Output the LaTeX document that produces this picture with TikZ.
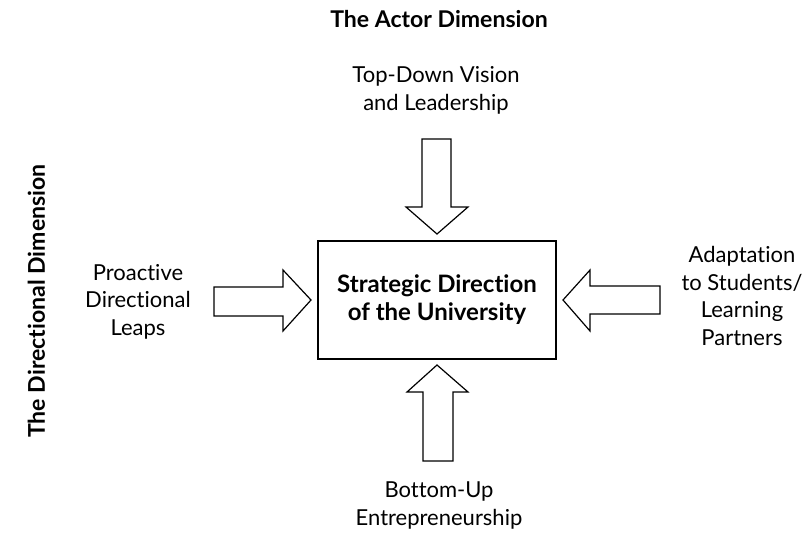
\documentclass[tikz,border=0pt]{standalone}
\usepackage{fontspec}
\setmainfont[Ligatures=NoCommon]{Lato}
\begin{document}
\begin{tikzpicture}[x=0.75pt,y=-0.75pt,
  lbl/.style={align=center,font=\fontsize{16.5pt}{20.6pt}\selectfont,inner sep=0pt},
  ttl/.style={font=\bfseries\fontsize{17.3pt}{20.6pt}\selectfont,inner sep=0pt},
  boxnode/.style={draw,line width=0.8pt,minimum width=178.5pt,minimum height=88.5pt,align=center,
     font=\bfseries\fontsize{18pt}{21pt}\selectfont,inner sep=0pt},
  blockarrow/.style={draw,line width=0.9pt,line join=miter,fill=white}]
\useasboundingbox (0,0) rectangle (804,536);
% central box
\node[boxnode] (box) at (437,300) {Strategic Direction\\of the University};
% labels (base anchor = baseline of last line)
\node[ttl,anchor=base] (actor) at (439,27) {The Actor Dimension};
\node[ttl,anchor=base,rotate=90] (dirdim) at (45,301) {The Directional Dimension};
\node[lbl,anchor=base] (top) at (436,110) {Top-Down Vision\\and Leadership};
\node[lbl,anchor=base] (bottom) at (439,525) {Bottom-Up\\Entrepreneurship};
\node[lbl,anchor=base] (left) at (138,335) {Proactive\\Directional\\Leaps};
\node[lbl,anchor=base] (right) at (742,345) {Adaptation\\to Students/\\Learning\\Partners};
% block arrows
\draw[blockarrow] (422,139) -- (451,139) -- (451,207) -- (468,207) -- (437,234) -- (406,207) -- (422,207) -- cycle;
\draw[blockarrow] (423,461) -- (453,461) -- (453,392) -- (468,392) -- (437,365) -- (407,392) -- (423,392) -- cycle;
\draw[blockarrow] (214,287) -- (283,287) -- (283,270) -- (311,300) -- (283,331) -- (283,316) -- (214,316) -- cycle;
\draw[blockarrow] (660,286) -- (590,286) -- (590,270) -- (563,300) -- (590,331) -- (590,314) -- (660,314) -- cycle;
\end{tikzpicture}
\end{document}
